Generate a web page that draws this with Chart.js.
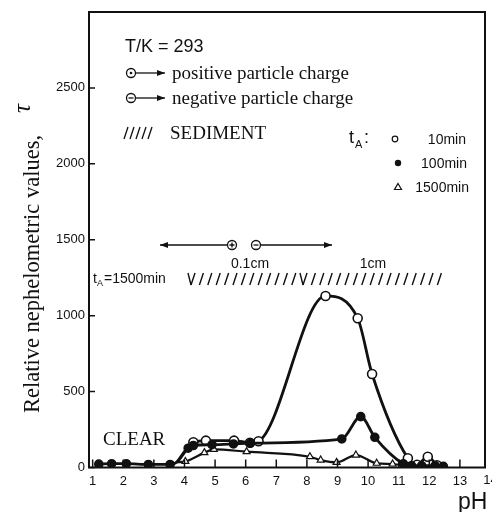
<!DOCTYPE html>
<html>
<head>
<meta charset="utf-8">
<script src="https://cdn.jsdelivr.net/npm/chart.js@4"></script>
<style>
  html, body { margin: 0; padding: 0; background: #fff; }
  canvas { display: block; }
</style>
</head>
<body>
<canvas id="chart" width="492" height="512"></canvas>
<script>
// pH / nephelometric values
const ph10 = [3.75, 4.29, 4.7, 5.62, 6.14, 6.42, 8.61, 9.66, 10.13, 11.3, 11.6, 11.95, 12.25];
const v10 = [35, 166, 177, 177, 163, 173, 1130, 983, 616, 61, 18, 71, 15];

const ph100 = [1.2, 1.62, 2.1, 2.82, 3.53, 3.75, 4.12, 4.29, 4.9, 5.6, 6.15, 9.14, 9.76, 10.22, 11.15, 11.42, 11.75, 12.19, 12.46];
const v100 = [22, 25, 25, 20, 20, 35, 127, 145, 150, 155, 160, 188, 335, 199, 25, 12, 12, 12, 8];

const ph1500 = [3.75, 4.03, 4.65, 4.96, 6.03, 8.1, 8.45, 8.97, 9.6, 10.28, 10.8, 11.3];
const v1500 = [35, 40, 98, 120, 104, 71, 49, 34, 82, 28, 23, 10];

const xTicks = [1, 2, 3, 4, 5, 6, 7, 8, 9, 10, 11, 12, 13];
const yTicks = [0, 500, 1000, 1500, 2000, 2500];

const pts = (xs, ys) => xs.map((x, i) => ({ x, y: ys[i] }));

const serif = '"Liberation Serif", "DejaVu Serif", serif';
const sans = '"Liberation Sans", "DejaVu Sans", sans-serif';

function arrow(ctx, x1, x2, y) {
  ctx.beginPath();
  ctx.moveTo(x1, y); ctx.lineTo(x2, y); ctx.stroke();
  const d = x2 > x1 ? 1 : -1;
  ctx.beginPath();
  ctx.moveTo(x2, y);
  ctx.lineTo(x2 - d * 8, y - 3);
  ctx.lineTo(x2 - d * 8, y + 3);
  ctx.closePath(); ctx.fill();
}

function chargeSym(ctx, x, y, kind) {
  ctx.beginPath();
  ctx.arc(x, y, 4.5, 0, Math.PI * 2);
  ctx.stroke();
  ctx.beginPath();
  if (kind === 'dot') {
    ctx.arc(x, y, 1.3, 0, Math.PI * 2); ctx.fill();
  } else {
    ctx.moveTo(x - 2.5, y); ctx.lineTo(x + 2.5, y);
    if (kind === 'plus') { ctx.moveTo(x, y - 2.5); ctx.lineTo(x, y + 2.5); }
    ctx.stroke();
  }
}

function slashes(ctx, x0, x1, step, y0, y1) {
  ctx.beginPath();
  for (let x = x0; x <= x1; x += step) {
    ctx.moveTo(x, y1); ctx.lineTo(x + 4, y0);
  }
  ctx.stroke();
}

const decor = {
  id: 'decor',
  afterDraw(chart) {
    const ctx = chart.ctx;
    const a = chart.chartArea;
    const xs = chart.scales.x, ys = chart.scales.y;
    ctx.save();
    ctx.strokeStyle = '#111';
    ctx.fillStyle = '#111';

    // frame
    ctx.lineWidth = 2;
    ctx.strokeRect(a.left, a.top, a.right - a.left, a.bottom - a.top);

    // inward ticks
    ctx.lineWidth = 1.5;
    ctx.beginPath();
    xTicks.forEach(v => {
      const px = xs.getPixelForValue(v);
      ctx.moveTo(px, a.bottom); ctx.lineTo(px, a.bottom - 8);
    });
    yTicks.forEach(v => {
      const py = ys.getPixelForValue(v);
      ctx.moveTo(a.left, py); ctx.lineTo(a.left + 6, py);
    });
    ctx.stroke();

    // extra "14" label past the frame
    ctx.font = '13px ' + sans;
    ctx.textAlign = 'center';
    ctx.textBaseline = 'middle';
    ctx.fillText('14', xs.getPixelForValue(14), 480);

    // pH
    ctx.font = '23px ' + sans;
    ctx.textAlign = 'left';
    ctx.textBaseline = 'alphabetic';
    ctx.fillText('pH', 458, 509);

    // y title
    ctx.save();
    ctx.translate(39, 413);
    ctx.rotate(-Math.PI / 2);
    ctx.font = '22.5px ' + serif;
    ctx.textAlign = 'left';
    ctx.fillText('Relative nephelometric values,', 0, 0);
    ctx.font = 'italic 25px ' + serif;
    ctx.fillText('τ', 300, -9);
    ctx.restore();

    // legend block
    ctx.font = '18px ' + sans;
    ctx.fillText('T/K = 293', 125, 52);

    ctx.lineWidth = 1.3;
    chargeSym(ctx, 131, 73, 'dot');
    arrow(ctx, 136, 165, 73);
    chargeSym(ctx, 131, 98, 'minus');
    arrow(ctx, 136, 165, 98);
    ctx.font = '19px ' + serif;
    ctx.fillText('positive particle charge', 172, 79);
    ctx.fillText('negative particle charge', 172, 104);
    slashes(ctx, 124, 150, 6, 127, 139);
    ctx.fillText('SEDIMENT', 170, 139);

    // t_A legend
    ctx.font = '18px ' + sans;
    ctx.fillText('t', 349, 143);
    ctx.font = '11px ' + sans;
    ctx.fillText('A', 355, 148);
    ctx.font = '18px ' + sans;
    ctx.fillText(':', 364, 143);
    ctx.lineWidth = 1.2;
    ctx.beginPath(); ctx.arc(395, 139, 2.8, 0, Math.PI * 2); ctx.stroke();
    ctx.beginPath(); ctx.arc(398, 163, 3.2, 0, Math.PI * 2); ctx.fill();
    ctx.beginPath();
    ctx.moveTo(398, 183.5); ctx.lineTo(401.5, 189.5); ctx.lineTo(394.5, 189.5); ctx.closePath(); ctx.stroke();
    ctx.font = '14px ' + sans;
    ctx.textAlign = 'right';
    ctx.fillText('10min', 466, 144);
    ctx.fillText('100min', 467, 168);
    ctx.fillText('1500min', 469, 192);

    // migration arrows
    ctx.textAlign = 'center';
    ctx.lineWidth = 1.3;
    arrow(ctx, 227, 160, 245);
    chargeSym(ctx, 232, 245, 'plus');
    chargeSym(ctx, 256, 245, 'minus');
    arrow(ctx, 261, 332, 245);
    ctx.font = '14px ' + sans;
    ctx.fillText('0.1cm', 250, 268);
    ctx.fillText('1cm', 373, 268);

    // t_A = 1500min sediment row
    ctx.textAlign = 'left';
    ctx.fillText('t', 93, 283);
    ctx.font = '9px ' + sans;
    ctx.fillText('A', 97, 286);
    ctx.font = '14px ' + sans;
    ctx.fillText('=1500min', 104, 283);
    ctx.lineWidth = 1.4;
    ctx.beginPath();
    ctx.moveTo(188, 273); ctx.lineTo(191, 285);
    ctx.moveTo(300, 273); ctx.lineTo(303, 285);
    ctx.stroke();
    slashes(ctx, 191, 296, 8.4, 273, 285);
    slashes(ctx, 303, 443, 8.4, 273, 285);

    // CLEAR
    ctx.font = '19px ' + serif;
    ctx.fillText('CLEAR', 103, 445);

    ctx.restore();
  }
};

const common = {
  borderColor: '#111',
  borderWidth: 2.8,
  cubicInterpolationMode: 'monotone',
  pointBorderColor: '#111',
  pointBorderWidth: 1.6
};

new Chart(document.getElementById('chart'), {
  type: 'line',
  data: {
    datasets: [
      {
        ...common,
        label: '100min',
        data: pts(ph100, v100),
        pointStyle: 'circle',
        pointRadius: ctx => (ctx.dataIndex === 5 ? 0 : 4),
        pointBackgroundColor: '#111'
      },
      {
        ...common,
        label: '10min',
        data: pts(ph10, v10),
        pointStyle: 'circle',
        pointRadius: ctx => (ctx.dataIndex === 0 ? 0 : 4.5),
        pointBackgroundColor: '#fff'
      },
      {
        ...common,
        label: '1500min',
        data: pts(ph1500, v1500),
        borderWidth: 2.2,
        pointStyle: 'triangle',
        pointRadius: ctx => (ctx.dataIndex === 0 ? 0 : 4),
        pointBorderWidth: 1.2,
        pointBackgroundColor: '#fff'
      }
    ]
  },
  options: {
    responsive: false,
    animation: false,
    devicePixelRatio: 1,
    layout: { padding: { left: 0, top: 12, right: 7, bottom: 0 } },
    plugins: { legend: { display: false }, tooltip: { enabled: false } },
    scales: {
      x: {
        type: 'linear',
        min: 0.88,
        max: 13.82,
        grid: { display: false, drawTicks: false },
        border: { display: false },
        afterBuildTicks: s => { s.ticks = xTicks.map(v => ({ value: v })); },
        afterFit: s => { s.height = 44.5; },
        ticks: {
          color: '#111',
          font: { family: sans, size: 13 },
          padding: 6,
          maxRotation: 0,
          autoSkip: false,
          callback: v => String(v)
        }
      },
      y: {
        min: 0,
        max: 3000,
        grid: { display: false, drawTicks: false },
        border: { display: false },
        afterBuildTicks: s => { s.ticks = yTicks.map(v => ({ value: v })); },
        afterFit: s => { s.width = 89; },
        ticks: {
          color: '#111',
          font: { family: sans, size: 13 },
          padding: 4,
          callback: v => String(v)
        }
      }
    }
  },
  plugins: [decor]
});
</script>
</body>
</html>
